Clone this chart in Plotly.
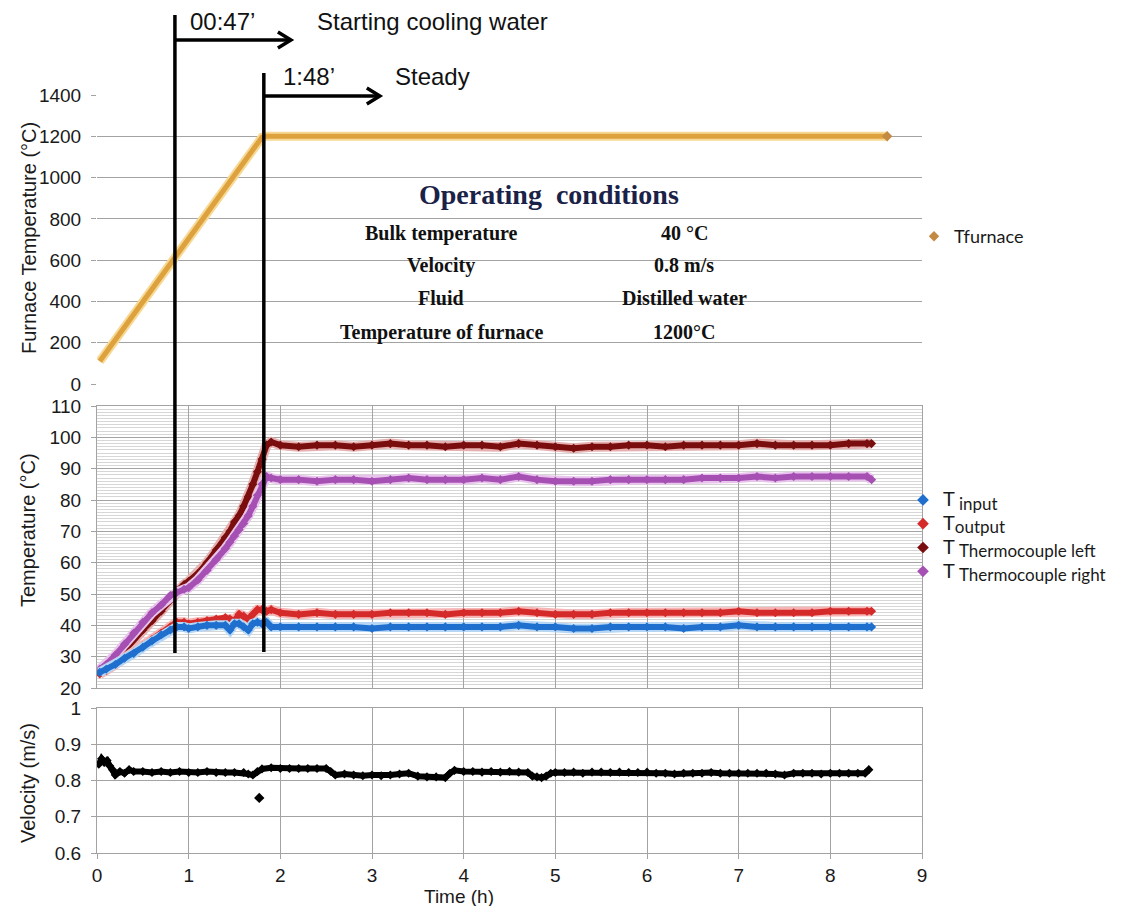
import plotly.graph_objects as go

# ---------------- data ----------------
t_furnace = [0.03, 0.2, 0.4, 0.6, 0.8, 1.0, 1.2, 1.4, 1.6, 1.8, 1.85, 2.5, 3.5, 4.5, 5.5, 6.5, 7.5, 8.62]
T_furnace = [110, 215, 340, 460, 585, 705, 830, 955, 1075, 1195, 1200, 1200, 1200, 1200, 1200, 1200, 1200, 1200]

t_temp = [0.03, 0.1, 0.2, 0.3, 0.4, 0.5, 0.6, 0.7, 0.8, 0.87, 0.95, 1.0, 1.1, 1.2, 1.3, 1.4, 1.45, 1.5,
          1.55, 1.6, 1.65, 1.7, 1.75, 1.8, 1.85, 1.9, 2.0,
          2.2, 2.4, 2.6, 2.8, 3.0, 3.2, 3.4, 3.6, 3.8, 4.0, 4.2, 4.4, 4.6, 4.8, 5.0, 5.2, 5.4, 5.6,
          5.8, 6.0, 6.2, 6.4, 6.6, 6.8, 7.0, 7.2, 7.4, 7.6, 7.8, 8.0, 8.2, 8.4, 8.45]

T_left = [25, 26.5, 29, 32, 35.5, 38.5, 41.5, 44.5, 48, 51, 53, 54, 56.5, 60, 64, 68, 70, 73,
          75, 78, 81, 85, 89, 93, 97.5, 98.5, 97.5,
          97, 97.5, 97.5, 97, 97.5, 98, 97.5, 97.5, 97, 97.5, 97.5, 97, 98, 97.5, 97, 96.5, 97, 97,
          97.5, 97.5, 97, 97.5, 97.5, 97.5, 97.5, 98, 97.5, 97.5, 97.5, 97.5, 98, 98, 98]

T_right = [26, 27.5, 30.5, 34, 37.5, 41, 44, 46.5, 49.5, 50.5, 51.5, 52, 54.5, 57.5, 61, 64.5, 66.5, 68.5,
           70.5, 72.5, 75, 78, 81.5, 85, 87.5, 87, 86.5,
           86.5, 86, 86.5, 86.5, 86, 86.5, 87, 86.5, 86.5, 86.5, 87, 86.5, 87.5, 86.5, 86, 86, 86, 86.5,
           86.5, 86.5, 86.5, 86.5, 87, 87, 87, 87.5, 87, 87.5, 87.5, 87.5, 87.5, 87.5, 86.5]

T_output = [24.5, 25.5, 27.5, 29.5, 31.5, 33.5, 35.5, 37.5, 39.5, 41, 41, 40.5, 41, 41.5, 42, 42.5, 42, 41.5,
            43.5, 43, 42, 43.5, 45, 45, 44.5, 45, 44,
            43.5, 44, 43.5, 43.5, 43.5, 44, 44, 44, 43.5, 44, 44, 44, 44.5, 44, 43.5, 43.5, 43.5, 44,
            44, 44, 44, 44, 44, 44, 44.5, 44, 44, 44, 44, 44.5, 44.5, 44.5, 44.5]

T_input = [25, 26, 27.5, 29.5, 31, 33, 35, 37, 38.5, 39.5, 39.5, 39, 39.5, 40, 40, 40, 38.5, 40.5,
           40.5, 39.5, 38.5, 40.5, 41, 40.5, 41, 39.5, 39.5,
           39.5, 39.5, 39.5, 39.5, 39, 39.5, 39.5, 39.5, 39.5, 39.5, 39.5, 39.5, 40, 39.5, 39.5, 39, 39, 39.5,
           39.5, 39.5, 39.5, 39, 39.5, 39.5, 40, 39.5, 39.5, 39.5, 39.5, 39.5, 39.5, 39.5, 39.5]

t_vel = [0.02, 0.05, 0.08, 0.11, 0.14, 0.17, 0.2, 0.25, 0.3, 0.35, 0.4, 0.5, 0.6, 0.7, 0.8, 0.9, 1.0,
         1.1, 1.2, 1.3, 1.4, 1.5, 1.6, 1.65, 1.7, 1.75, 1.8, 1.9, 2.0, 2.1, 2.2, 2.3, 2.4, 2.5, 2.55,
         2.6, 2.7, 2.8, 2.9, 3.0, 3.1, 3.2, 3.3, 3.4, 3.5, 3.6, 3.7, 3.8, 3.85, 3.9, 4.0, 4.1, 4.2,
         4.3, 4.4, 4.5, 4.6, 4.7, 4.75, 4.8, 4.85, 4.9, 4.95, 5.0, 5.1, 5.2, 5.3, 5.4, 5.5, 5.6, 5.7,
         5.8, 5.9, 6.0, 6.1, 6.2, 6.3, 6.4, 6.5, 6.6, 6.7, 6.8, 6.9, 7.0, 7.1, 7.2, 7.3, 7.4, 7.5,
         7.6, 7.7, 7.8, 7.9, 8.0, 8.1, 8.2, 8.3, 8.38, 8.42]
velocity = [0.845, 0.86, 0.85, 0.855, 0.84, 0.83, 0.815, 0.825, 0.82, 0.83, 0.825, 0.825, 0.822, 0.825,
            0.822, 0.825, 0.822, 0.822, 0.825, 0.822, 0.822, 0.822, 0.822, 0.818, 0.815, 0.825, 0.832,
            0.835, 0.833, 0.833, 0.833, 0.833, 0.833, 0.833, 0.825, 0.815, 0.818, 0.815, 0.813, 0.815,
            0.813, 0.815, 0.818, 0.82, 0.812, 0.81, 0.81, 0.808, 0.82, 0.828, 0.825, 0.825, 0.823,
            0.825, 0.823, 0.825, 0.823, 0.822, 0.812, 0.81, 0.808, 0.812, 0.82, 0.822, 0.822, 0.823,
            0.82, 0.823, 0.823, 0.822, 0.823, 0.822, 0.822, 0.823, 0.82, 0.82, 0.818, 0.82, 0.82, 0.82,
            0.822, 0.82, 0.82, 0.82, 0.82, 0.82, 0.82, 0.818, 0.815, 0.82, 0.82, 0.82, 0.818, 0.82,
            0.82, 0.82, 0.82, 0.82, 0.83]
t_vel_outlier = [1.77]
vel_outlier = [0.752]

events = [0.85, 1.82]          # vertical markers (h)
event_labels = ["00:47\u2019", "1:48\u2019"]
event_texts = ["Starting cooling water", "Steady"]

cond_names = ["Bulk temperature", "Velocity", "Fluid", "Temperature of furnace"]
cond_values = ["40 \u00b0C", "0.8 m/s", "Distilled water", "1200\u00b0C"]

x_ticks = list(range(0, 10))
vel_ticks = [0.6, 0.7, 0.8, 0.9, 1.0]
vel_ticklabels = ["0.6", "0.7", "0.8", "0.9", "1"]

# ---------------- layout helpers ----------------
# the page body has an 8px margin, so the figure sits at (8, 8) in the window
OFF = 8
W, H = 1122 - 2 * OFF, 914 - 2 * OFF
def px(x):
    return (x - OFF) / W
def py(y):
    return 1 - (y - OFF) / H

XDOM = [px(97), px(922)]
D_TOP = [py(384), py(95)]
D_MID = [py(688), py(406)]
D_BOT = [py(853), py(708)]
HPX = 825 / 9.0   # pixels per hour

SANS = "Liberation Sans, Arial, sans-serif"
SERIF = "Liberation Serif, Times New Roman, serif"
LEG = "Lato, Carlito, sans-serif"
GRID = "#a3a3a3"

C_FUR = "#dda23e"
C_IN = "#1f6fce"
C_OUT = "#d42a2a"
C_LEFT = "#7a0e0e"
C_RIGHT = "#a650b3"

fig = go.Figure()

# furnace (halo + core)
fig.add_trace(go.Scatter(x=t_furnace, y=T_furnace, mode="lines", xaxis="x", yaxis="y",
                         line=dict(color="#f7d894", width=9), showlegend=False, hoverinfo="skip"))
fig.add_trace(go.Scatter(x=t_furnace, y=T_furnace, mode="lines", xaxis="x", yaxis="y",
                         line=dict(color=C_FUR, width=5), showlegend=False))
fig.add_trace(go.Scatter(x=[t_furnace[-1]], y=[T_furnace[-1]], mode="markers", xaxis="x", yaxis="y",
                         marker=dict(symbol="diamond", size=8, color="#c38a43"), showlegend=False))

# temperatures
for vals, col, halo in [
    (T_left, C_LEFT, "#e6b0b0"),
    (T_right, C_RIGHT, "#e8c4ec"),
    (T_output, C_OUT, "#f6b4b4"),
    (T_input, C_IN, "#b5d6f5"),
]:
    fig.add_trace(go.Scatter(x=t_temp, y=vals, mode="lines", xaxis="x2", yaxis="y2",
                             line=dict(color=halo, width=10), showlegend=False, hoverinfo="skip"))
    fig.add_trace(go.Scatter(x=t_temp, y=vals, mode="lines+markers", xaxis="x2", yaxis="y2",
                             line=dict(color=col, width=6),
                             marker=dict(symbol="diamond", size=7, color=col),
                             showlegend=False))

# velocity
fig.add_trace(go.Scatter(x=t_vel, y=velocity, mode="lines+markers", xaxis="x3", yaxis="y3",
                         line=dict(color="black", width=6),
                         marker=dict(symbol="diamond", size=7, color="black"), showlegend=False))
fig.add_trace(go.Scatter(x=t_vel_outlier, y=vel_outlier, mode="markers", xaxis="x3", yaxis="y3",
                         marker=dict(symbol="diamond", size=8, color="black"), showlegend=False))

# legend-only entries
def sub(s, gap=""):
    return ("<span style='font-size:20px'>T</span>" + gap +
            "<sub><span style='font-size:17px'>" + s + "</span></sub>")

fig.add_trace(go.Scatter(x=[None], y=[None], mode="markers", xaxis="x", yaxis="y",
                         marker=dict(symbol="diamond", size=8, color="#c38a43"),
                         name="Tfurnace", legend="legend"))
for name, col in [(sub("input", " "), C_IN), (sub("output"), C_OUT),
                  (sub("Thermocouple left", " "), C_LEFT),
                  (sub("Thermocouple right", " "), C_RIGHT)]:
    fig.add_trace(go.Scatter(x=[None], y=[None], mode="markers", xaxis="x2", yaxis="y2",
                             marker=dict(symbol="diamond", size=9, color=col),
                             name=name, legend="legend2"))

tickfont = dict(family=SANS, size=19, color="#1a1a1a")

fig.update_layout(
    width=W, height=H,
    margin=dict(l=0, r=0, t=0, b=0, autoexpand=False),
    paper_bgcolor="white", plot_bgcolor="white",
    xaxis=dict(domain=XDOM, range=[0, 9], anchor="y", showgrid=False, zeroline=False,
               showticklabels=False, showline=False, ticks="", automargin=False),
    yaxis=dict(domain=D_TOP, range=[0, 1400], dtick=200, anchor="x", showgrid=True,
               gridcolor=GRID, gridwidth=1, zeroline=False, showline=False,
               ticks="outside", ticklen=5, tickcolor=GRID, tickfont=tickfont,
               ticklabelstandoff=6, automargin=False),
    xaxis2=dict(domain=XDOM, range=[0, 9], dtick=1, anchor="y2", showgrid=True, gridcolor=GRID,
                zeroline=False, showticklabels=False, ticks="", showline=True, linecolor=GRID,
                mirror=True, automargin=False),
    yaxis2=dict(domain=D_MID, range=[20, 110], dtick=10, anchor="x2", showgrid=True,
                gridcolor=GRID, zeroline=False, showline=True, linecolor=GRID, mirror=True,
                ticks="outside", ticklen=5, tickcolor=GRID, tickfont=tickfont,
                ticklabelstandoff=6, automargin=False,
                minor=dict(dtick=1, showgrid=True, gridcolor="#d6d6d6", gridwidth=1, ticks="")),
    xaxis3=dict(domain=XDOM, range=[0, 9], tickvals=x_ticks, anchor="y3", showgrid=True,
                gridcolor=GRID, zeroline=False, showline=True, linecolor=GRID, mirror=True,
                ticks="outside", ticklen=5, tickcolor=GRID, tickfont=tickfont,
                ticklabelstandoff=0, automargin=False),
    yaxis3=dict(domain=D_BOT, range=[0.6, 1.0], tickvals=vel_ticks, ticktext=vel_ticklabels,
                anchor="x3", showgrid=True, gridcolor=GRID, zeroline=False, showline=True,
                linecolor=GRID, mirror=True, ticks="outside", ticklen=5, tickcolor=GRID,
                tickfont=tickfont, ticklabelstandoff=6, automargin=False),
    legend=dict(x=px(914), y=py(218), xanchor="left", yanchor="top", bgcolor="rgba(0,0,0,0)",
                font=dict(family=LEG, size=18, color="#1a1a1a"), itemwidth=30),
    legend2=dict(x=px(903), y=py(483), xanchor="left", yanchor="top", bgcolor="rgba(0,0,0,0)",
                 font=dict(family=LEG, size=16, color="#1a1a1a"), itemwidth=30, tracegroupgap=0),
    hovermode=False,
)

shapes = [
    # white box hiding gridlines behind the operating-conditions table
    dict(type="rect", xref="paper", yref="paper", x0=px(300), x1=px(815), y0=py(398), y1=py(150),
         fillcolor="white", line=dict(width=0), layer="between"),
    dict(type="line", xref="x3", yref="paper", x0=events[0], x1=events[0], y0=py(653), y1=py(15),
         line=dict(color="black", width=3.5)),
    dict(type="line", xref="x3", yref="paper", x0=events[1], x1=events[1], y0=py(652), y1=py(73),
         line=dict(color="black", width=3.5)),
]
# arrows (shaft + open chevron head)
for ev, yarr, length_px in [(events[0], 40, 116), (events[1], 96, 116)]:
    xe = ev + length_px / HPX
    shapes.append(dict(type="line", xref="x3", yref="paper", x0=ev, x1=xe - 1.5 / HPX,
                       y0=py(yarr), y1=py(yarr), line=dict(color="black", width=3.5)))
    hx = 13 / HPX
    path = "M %f,%f L %f,%f L %f,%f" % (xe - hx, py(yarr - 8), xe, py(yarr), xe - hx, py(yarr + 8))
    shapes.append(dict(type="path", xref="x3", yref="paper", path=path,
                       line=dict(color="black", width=3.5)))
fig.update_layout(shapes=shapes)

ann = []
big = dict(family=SANS, size=24, color="#111111")
ann += [
    dict(xref="paper", yref="paper", x=px(188), y=py(22), text=event_labels[0], showarrow=False,
         xanchor="left", yanchor="middle", font=big),
    dict(xref="paper", yref="paper", x=px(315), y=py(22), text=event_texts[0], showarrow=False,
         xanchor="left", yanchor="middle", font=big),
    dict(xref="paper", yref="paper", x=px(281), y=py(77), text=event_labels[1], showarrow=False,
         xanchor="left", yanchor="middle", font=big),
    dict(xref="paper", yref="paper", x=px(393), y=py(77), text=event_texts[1], showarrow=False,
         xanchor="left", yanchor="middle", font=big),
]
# table
ann.append(dict(xref="paper", yref="paper", x=px(549), y=py(195), text="<b>Operating  conditions</b>",
                showarrow=False, xanchor="center", yanchor="middle",
                font=dict(family=SERIF, size=28, color="#1b2247")))
for i, (n, v) in enumerate(zip(cond_names, cond_values)):
    yy = [233, 265, 298, 332][i]
    ann.append(dict(xref="paper", yref="paper", x=px(441), y=py(yy), text="<b>" + n + "</b>",
                    showarrow=False, xanchor="center", yanchor="middle",
                    font=dict(family=SERIF, size=20, color="#111111")))
    ann.append(dict(xref="paper", yref="paper", x=px(684), y=py(yy), text="<b>" + v + "</b>",
                    showarrow=False, xanchor="center", yanchor="middle",
                    font=dict(family=SERIF, size=20, color="#111111")))
# axis titles
tfont = dict(family=SANS, size=20, color="#1a1a1a")
ann += [
    dict(xref="paper", yref="paper", x=px(29), y=py(238), text="Furnace Temperature (\u00b0C)",
         textangle=-90, showarrow=False, xanchor="center", yanchor="middle", font=tfont),
    dict(xref="paper", yref="paper", x=px(28), y=py(530), text="Temperature (\u00b0C)",
         textangle=-90, showarrow=False, xanchor="center", yanchor="middle", font=tfont),
    dict(xref="paper", yref="paper", x=px(28), y=py(783), text="Velocity (m/s)",
         textangle=-90, showarrow=False, xanchor="center", yanchor="middle", font=tfont),
    dict(xref="paper", yref="paper", x=px(459), y=py(896), text="Time (h)",
         showarrow=False, xanchor="center", yanchor="middle",
         font=dict(family=SANS, size=19, color="#1a1a1a")),
]
fig.update_layout(annotations=ann)

fig.write_html("out.html")
